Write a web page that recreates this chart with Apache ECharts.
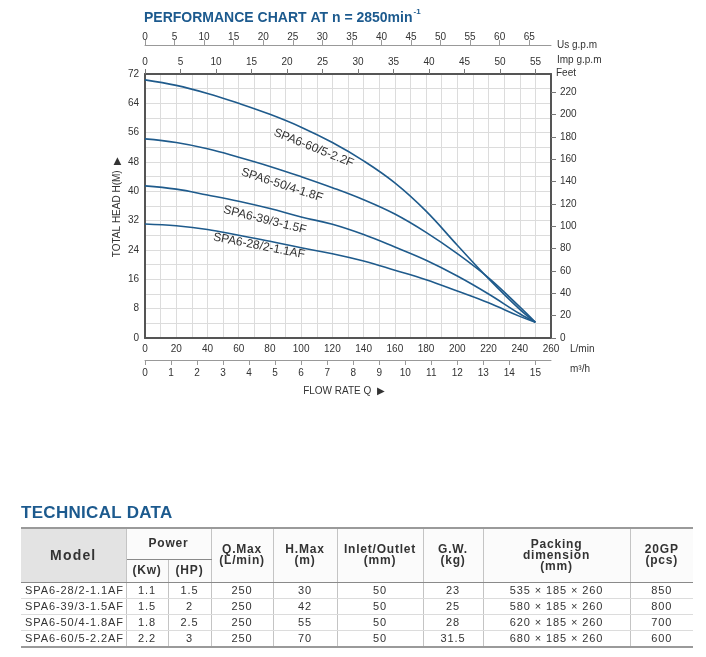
<!DOCTYPE html>
<html>
<head>
<meta charset="utf-8">
<script src="https://cdn.jsdelivr.net/npm/echarts@6/dist/echarts.min.js"></script>
<style>
  html, body { margin: 0; padding: 0; background: #fff; }
  #chart { position: absolute; left: 0; top: 0; width: 706px; height: 657px; }
  #techTitle {
    position: absolute; left: 21px; top: 503px;
    font: bold 17px 'Liberation Sans', Arial, sans-serif; color: #1c5a8e; letter-spacing: 0.3px;
  }
  #tech {
    position: absolute; left: 21px; top: 527px; width: 672px;
    border-collapse: collapse; table-layout: fixed;
    font-family: 'Liberation Sans', Arial, sans-serif; color: #333;
    border-top: 2px solid #9a9a9a; border-bottom: 2px solid #9a9a9a;
  }
  #tech th {
    font-size: 12px; font-weight: bold; letter-spacing: 0.8px; line-height: 11px;
    border-left: 1px solid #c4c4c4; border-right: 1px solid #c4c4c4;
    border-bottom: 1px solid #8a8a8a; padding: 0; background: #fbfbfb;
  }
  #tech th.model { background: #e3e3e3; font-size: 14px; letter-spacing: 1.2px; }
  #tech th.sub { border-bottom: 1px solid #8a8a8a; border-top: 1px solid #c4c4c4; }
  #tech td {
    font-size: 11px; letter-spacing: 0.9px; height: 15px; line-height: 15px; padding: 0;
    text-align: center; border-left: 1px solid #c4c4c4; border-right: 1px solid #c4c4c4;
    border-bottom: 1px solid #dcdcdc;
  }
  #tech td.m { text-align: left; padding-left: 4px; letter-spacing: 0.9px; }
  #tech tr > :first-child { border-left: none; }
  #tech tr > :last-child { border-right: none; }
</style>
</head>
<body>
<div id="chart"></div>
<div id="techTitle">TECHNICAL DATA</div>
<table id="tech">
  <colgroup>
    <col style="width:105px"><col style="width:42px"><col style="width:43px"><col style="width:62px">
    <col style="width:64px"><col style="width:86px"><col style="width:60px"><col style="width:147px"><col style="width:63px">
  </colgroup>
  <thead>
    <tr style="height:31px">
      <th rowspan="2" class="model">Model</th>
      <th colspan="2">Power</th>
      <th rowspan="2">Q.Max<br>(L/min)</th>
      <th rowspan="2">H.Max<br>(m)</th>
      <th rowspan="2">Inlet/Outlet<br>(mm)</th>
      <th rowspan="2">G.W.<br>(kg)</th>
      <th rowspan="2">Packing<br>dimension<br>(mm)</th>
      <th rowspan="2">20GP<br>(pcs)</th>
    </tr>
    <tr style="height:23px">
      <th class="sub">(Kw)</th>
      <th class="sub">(HP)</th>
    </tr>
  </thead>
  <tbody id="rows"></tbody>
</table>
<script>
// pump curves, flow in L/min, head in m
const flowLpm = [0, 20, 40, 60, 80, 100, 120, 140, 160, 180, 200, 220, 240, 250];
const head60 = [70.4, 68.9, 66.7, 64.0, 61.0, 57.5, 53.3, 48.3, 42.3, 34.6, 25.3, 16.2, 7.8, 4.3];
const head50 = [54.3, 53.3, 51.6, 49.3, 46.8, 44.0, 41.0, 37.7, 33.8, 28.8, 23.0, 16.4, 8.5, 4.3];
const head39 = [41.5, 40.6, 39.0, 37.3, 35.3, 33.0, 31.0, 28.2, 24.8, 21.2, 16.9, 12.0, 6.6, 4.3];
const head28 = [31.1, 30.6, 29.6, 28.0, 26.4, 24.6, 23.0, 21.0, 18.5, 15.9, 12.8, 9.6, 5.9, 4.3];
const curveNames = ['SPA6-60/5-2.2F', 'SPA6-50/4-1.8F', 'SPA6-39/3-1.5F', 'SPA6-28/2-1.1AF'];

// secondary scale ticks
const usGpmTicks = [0, 5, 10, 15, 20, 25, 30, 35, 40, 45, 50, 55, 60, 65];
const impGpmTicks = [0, 5, 10, 15, 20, 25, 30, 35, 40, 45, 50, 55];
const m3hTicks = [0, 1, 2, 3, 4, 5, 6, 7, 8, 9, 10, 11, 12, 13, 14, 15];
const feetTicks = [0, 20, 40, 60, 80, 100, 120, 140, 160, 180, 200, 220];

// technical data table
const tModels = ['SPA6-28/2-1.1AF', 'SPA6-39/3-1.5AF', 'SPA6-50/4-1.8AF', 'SPA6-60/5-2.2AF'];
const tKw = ['1.1', '1.5', '1.8', '2.2'];
const tHp = ['1.5', '2', '2.5', '3'];
const tQmax = ['250', '250', '250', '250'];
const tHmax = ['30', '42', '55', '70'];
const tInlet = ['50', '50', '50', '50'];
const tGw = ['23', '25', '28', '31.5'];
const tPacking = ['535 × 185 × 260', '580 × 185 × 260', '620 × 185 × 260', '680 × 185 × 260'];
const tPcs = ['850', '800', '700', '600'];

const LPM_MAX = 260, H_MAX = 72;

const rowsEl = document.getElementById('rows');
tModels.forEach((m, i) => {
  const tr = document.createElement('tr');
  [m, tKw[i], tHp[i], tQmax[i], tHmax[i], tInlet[i], tGw[i], tPacking[i], tPcs[i]].forEach((v, j) => {
    const td = document.createElement('td');
    td.textContent = v;
    if (j === 0) td.className = 'm';
    tr.appendChild(td);
  });
  rowsEl.appendChild(tr);
});

const FONT = "'Liberation Sans', Arial, sans-serif";
const lineColor = '#1f5b8c';
const frame = '#555';

const chart = echarts.init(document.getElementById('chart'));

function pairs(ys) {
  return flowLpm.map((x, i) => [x, ys[i]]);
}

const series = [head60, head50, head39, head28].map((h, i) => ({
  name: curveNames[i],
  type: 'line',
  xAxisIndex: 0,
  yAxisIndex: 0,
  smooth: 0.4,
  showSymbol: false,
  lineStyle: { color: lineColor, width: 1.6 },
  data: pairs(h)
}));

chart.setOption({
  animation: false,
  title: {
    left: 144,
    top: 8,
    padding: 0,
    text: '{a|PERFORMANCE CHART AT n = 2850min}{b|-1}',
    textStyle: {
      rich: {
        a: { fontFamily: FONT, fontSize: 14, fontWeight: 'bold', color: '#1c5a8e', lineHeight: 20 },
        b: { fontFamily: FONT, fontSize: 8, fontWeight: 'bold', color: '#1c5a8e', lineHeight: 20, verticalAlign: 'top', padding: [0, 0, 0, 1] }
      }
    }
  },
  grid: { left: 145, top: 74, width: 406, height: 264, containLabel: false },
  xAxis: [
    {
      type: 'value', position: 'bottom', min: 0, max: LPM_MAX, interval: 20,
      axisLine: { onZero: false, lineStyle: { color: frame, width: 2 } },
      axisTick: { show: false },
      axisLabel: { color: '#333', fontFamily: FONT, fontSize: 10, margin: 6 },
      splitLine: { show: true, lineStyle: { color: '#dcdcdc', width: 1 } },
      minorTick: { show: false, splitNumber: 2 },
      minorSplitLine: { show: true, lineStyle: { color: '#dcdcdc', width: 1 } }
    },
    {
      type: 'value', position: 'bottom', offset: 22, min: 0, max: LPM_MAX * 0.06,
      axisLine: { onZero: false, lineStyle: { color: '#999', width: 1 } },
      axisTick: { show: true, length: 5, lineStyle: { color: '#999' }, customValues: m3hTicks },
      axisLabel: { color: '#333', fontFamily: FONT, fontSize: 10, margin: 8, customValues: m3hTicks },
      splitLine: { show: false }
    },
    {
      type: 'value', position: 'top', offset: 0, min: 0, max: LPM_MAX * 0.219969,
      axisLine: { onZero: false, lineStyle: { color: frame, width: 2 } },
      axisTick: { show: true, length: 5, lineStyle: { color: '#777' }, customValues: impGpmTicks },
      axisLabel: { color: '#333', fontFamily: FONT, fontSize: 10, margin: 7, customValues: impGpmTicks },
      splitLine: { show: false }
    },
    {
      type: 'value', position: 'top', offset: 29, min: 0, max: LPM_MAX * 0.264172,
      axisLine: { onZero: false, lineStyle: { color: '#999', width: 1 } },
      axisTick: { show: true, length: 5, lineStyle: { color: '#999' }, customValues: usGpmTicks },
      axisLabel: { color: '#333', fontFamily: FONT, fontSize: 10, margin: 3, customValues: usGpmTicks },
      splitLine: { show: false }
    }
  ],
  yAxis: [
    {
      type: 'value', position: 'left', min: 0, max: H_MAX, interval: 8,
      axisLine: { show: true, onZero: false, lineStyle: { color: frame, width: 2 } },
      axisTick: { show: false },
      axisLabel: { color: '#333', fontFamily: FONT, fontSize: 10, margin: 6 },
      splitLine: { show: true, lineStyle: { color: '#dcdcdc', width: 1 } },
      minorTick: { show: false, splitNumber: 2 },
      minorSplitLine: { show: true, lineStyle: { color: '#dcdcdc', width: 1 } }
    },
    {
      type: 'value', position: 'right', min: 0, max: H_MAX * 3.28084,
      axisLine: { show: true, onZero: false, lineStyle: { color: frame, width: 2 } },
      axisTick: { show: true, length: 5, lineStyle: { color: '#777' }, customValues: feetTicks },
      axisLabel: { color: '#333', fontFamily: FONT, fontSize: 10, margin: 9, customValues: feetTicks },
      splitLine: { show: false }
    }
  ],
  series: series
});

// rotated curve labels, anchored in data coordinates
const curveLabels = [
  { at: [108, 51.8], angle: 22 },
  { at: [87.7, 41.7], angle: 18 },
  { at: [76.8, 32.2], angle: 14 },
  { at: [73, 25.1], angle: 11 }
];

const graphics = curveLabels.map((c, i) => {
  const p = chart.convertToPixel({ xAxisIndex: 0, yAxisIndex: 0 }, c.at);
  return {
    type: 'text', x: p[0], y: p[1], rotation: -c.angle * Math.PI / 180,
    style: {
      text: curveNames[i], fill: '#333', font: '12px ' + FONT,
      align: 'center', verticalAlign: 'middle', textAlign: 'center', textVerticalAlign: 'middle'
    }
  };
});

function label(text, x, y) {
  return {
    type: 'text', x: x, y: y,
    style: {
      text: text, fill: '#333', font: '10px ' + FONT,
      align: 'left', verticalAlign: 'middle', textAlign: 'left', textVerticalAlign: 'middle'
    }
  };
}

graphics.push(
  label('Us g.p.m', 557, 45),
  label('Imp g.p.m', 557, 60),
  label('Feet', 556, 73),
  label('L/min', 570, 349),
  label('m³/h', 570, 369),
  {
    type: 'text', x: 344, y: 391,
    style: { text: 'FLOW RATE Q  ▶', fill: '#333', font: '10px ' + FONT,
      align: 'center', verticalAlign: 'middle', textAlign: 'center', textVerticalAlign: 'middle' }
  },
  {
    type: 'text', x: 117, y: 207, rotation: Math.PI / 2,
    style: { text: 'TOTAL HEAD H(M)  ▶', fill: '#333', font: '10px ' + FONT,
      align: 'center', verticalAlign: 'middle', textAlign: 'center', textVerticalAlign: 'middle' }
  }
);

chart.setOption({ graphic: graphics });
</script>
</body>
</html>
